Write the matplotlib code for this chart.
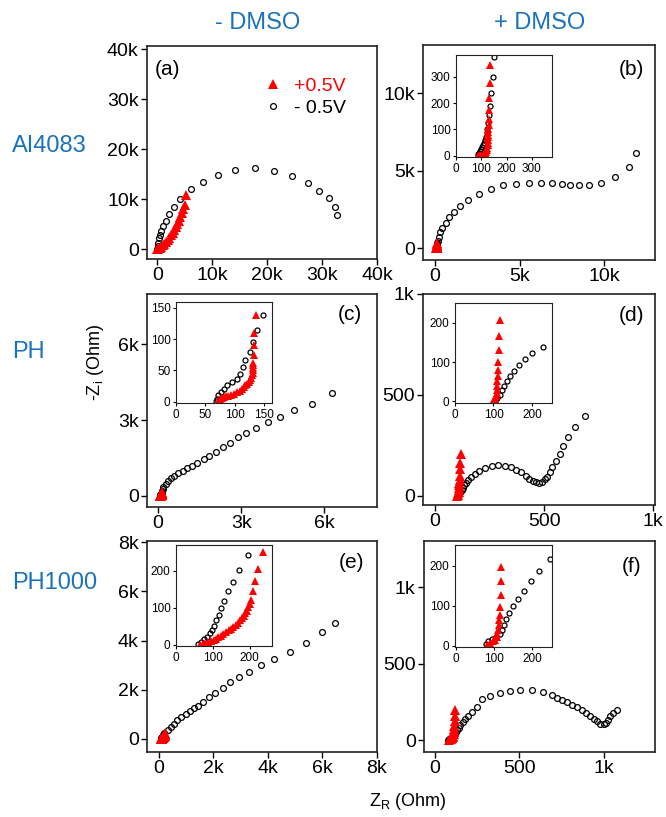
import matplotlib
matplotlib.use('Agg')
import matplotlib.pyplot as plt

# ---------- data (Ohm) ----------
# (a) AI4083, -DMSO
a_red_x = [0, 100, 250, 450, 700, 950, 1250, 1550, 1850, 2150, 2450, 2750, 3050, 3350,
           3650, 3900, 4150, 4400, 4700, 4950, 5150]
a_red_y = [0, 80, 200, 350, 550, 800, 1100, 1450, 1850, 2300, 2800, 3300, 3850, 4400,
           5000, 5700, 6400, 7200, 8000, 8800, 10900]
a_blk_x = [0, 50, 100, 300, 500, 600, 1000, 1500, 2100, 3000, 4200, 6200, 8300, 11100,
           14200, 17800, 21300, 24500, 27400, 29400, 31200, 32400, 32800]
a_blk_y = [0, 600, 1200, 2200, 2900, 3700, 4600, 5700, 7000, 8500, 10000, 12100, 13500, 14900,
           15900, 16200, 15700, 14700, 13300, 11700, 10200, 8500, 6900]

# (b) AI4083, +DMSO
b_red_x = [88, 92, 100, 110, 115, 120, 122, 124, 125, 126, 126, 127, 127, 128, 128, 129,
           130, 131, 132, 133, 135]
b_red_y = [0, 1, 3, 6, 10, 15, 22, 30, 40, 50, 60, 70, 80, 90, 100, 115,
           140, 175, 220, 275, 345]
b_blk_x = [87, 89, 92, 96, 100, 104, 108, 112, 115, 118, 121, 124, 127, 130, 133, 138, 145, 152,
           190, 240, 330, 450, 630, 830, 1130, 1480, 1970, 2600, 3320, 4040, 4790, 5560, 6270,
           6900, 7500, 7990, 8540, 9130, 9820, 10650, 11440, 11900]
b_blk_y = [0, 5, 10, 16, 24, 32, 40, 48, 58, 70, 85, 100, 125, 155, 190, 240, 300, 375,
           480, 750, 1070, 1330, 1650, 2000, 2370, 2760, 3140, 3530, 3850, 4060, 4170, 4200, 4200,
           4200, 4140, 4060, 4060, 4080, 4230, 4620, 5270, 6170]

# (c) PH, -DMSO
c_red_x = [72, 75, 78, 81, 85, 89, 94, 99, 104, 108, 112, 115, 118, 121, 124, 126, 128,
           129, 130, 130, 131, 131, 131, 132, 132, 133, 136]
c_red_y = [1, 4, 5.5, 7, 8.5, 9.5, 11, 13, 15, 17.5, 20, 23, 26, 28, 31, 34.5, 38,
           42, 46, 50, 54, 58, 62, 74, 90, 109, 138]
c_blk_x = [68, 69, 72, 76, 81, 86, 95, 103, 109, 114, 118, 125, 131, 138, 148, 158, 168,
           180, 270, 350, 450, 570, 720, 890, 1060, 1240, 1420, 1640, 1850, 2090, 2330, 2590,
           2880, 3180, 3520, 3950, 4410, 4920, 5550, 6280]
c_blk_y = [1.6, 5, 11, 16, 21, 27, 32, 37, 45, 55, 66, 80, 95, 115, 139, 190, 260,
           340, 470, 590, 700, 790, 890, 990, 1090, 1200, 1320, 1460, 1590, 1750, 1920, 2100,
           2340, 2510, 2710, 2930, 3130, 3390, 3660, 4080]

# (d) PH, +DMSO
d_red_x = [100, 104, 107, 109, 109, 110, 110, 111, 113, 113, 115, 115, 117]
d_red_y = [2, 6, 13, 21, 30, 40, 52, 65, 80, 101, 131, 165, 207]
d_blk_x = [104, 109, 116, 123, 128, 135, 143, 152, 165, 181, 200, 229, 259, 290, 320, 348,
           373, 396, 415, 431, 447, 462, 477, 491, 503, 515, 526, 538, 553, 572, 587, 610,
           643, 689]
d_blk_y = [2.5, 8, 17, 28, 40, 53, 65, 78, 93, 108, 124, 138, 147, 152, 149, 142,
           129, 116, 101, 86, 74, 68, 66, 71, 83, 96, 120, 145, 173, 208, 249, 290,
           340, 398]

# (e) PH1000, -DMSO
e_red_x = [65, 74, 80, 88, 95, 102, 108, 115, 122, 129, 136, 143, 150, 156, 162, 168, 174,
           179, 184, 188, 192, 197, 200, 204, 209, 215, 223, 236]
e_red_y = [0, 3, 5, 8, 10, 13.5, 17, 21, 25, 30, 34, 39, 44, 49, 54, 60, 66,
           72, 78, 85, 92, 101, 110, 121, 146, 172, 204, 249]
e_blk_x = [61, 67, 76, 85, 93, 98, 104, 109, 116, 123, 131, 141, 155, 172, 195,
           330, 430, 540, 670, 820, 980, 1120, 1270, 1430, 1610, 1830, 2060, 2340, 2610,
           2950, 3320, 3740, 4210, 4800, 5390, 5980, 6460]
e_blk_y = [3, 9, 15, 22, 31, 40, 52, 66, 81, 99, 119, 144, 170, 202, 242,
           350, 490, 620, 760, 880, 1000, 1120, 1240, 1360, 1500, 1690, 1860, 2090, 2300,
           2510, 2730, 2990, 3240, 3530, 3920, 4340, 4730]

# (f) PH1000, +DMSO
f_red_x = [80, 89, 96, 102, 106.5, 108, 111, 112.7, 113.5, 115, 115, 117, 117, 117]
f_red_y = [2.5, 6.7, 10.8, 15, 21.7, 30, 40, 52.5, 65, 77.5, 96.7, 127.5, 161, 198]
f_blk_x = [79, 85, 94, 105, 114, 120, 126, 131, 140, 150, 163, 179, 198, 218, 246,
           277, 326, 385, 445, 504, 573, 642, 692, 721, 751, 781, 810, 840, 870, 895, 919,
           939, 958, 978, 998, 1012, 1022, 1038, 1053, 1077]
f_blk_y = [5, 11, 17, 22, 30, 40, 53, 67, 82, 100, 118, 138, 161, 186, 217,
           270, 291, 309, 320, 326, 326, 313, 298, 280, 265, 248, 233, 215, 196, 178, 161,
           143, 124, 109, 109, 117, 135, 157, 178, 196]

legend_labels = ['+0.5V', '- 0.5V']
panel_labels = ['(a)', '(b)', '(c)', '(d)', '(e)', '(f)']

# ---------- style ----------
plt.rcParams['font.family'] = ['Liberation Sans', 'DejaVu Sans']
plt.rcParams['mathtext.default'] = 'regular'
BLUE = '#1a72bd'
RED = '#ff0000'
W, H = 666, 817


def box(x0, y0, x1, y1):
    # pixel box (top-left origin) -> figure fraction
    return [x0 / W, 1 - y1 / H, (x1 - x0) / W, (y1 - y0) / H]


def kfmt(v, pos=None):
    if v == 0:
        return '0'
    if abs(v) >= 1000:
        return f'{v / 1000:g}k'
    return f'{v:g}'


def draw(ax, rx, ry, bx, by, inset=False):
    ms_c, ms_t = (3.6, 5.6) if inset else (4.2, 6.6)
    b, = ax.plot(bx, by, 'o', mfc='none', mec='black', ms=ms_c, mew=0.9, ls='none')
    r, = ax.plot(rx, ry, '^', color=RED, ms=ms_t, mew=0, ls='none')
    return r, b


def style(ax, xlim, ylim, xt, yt, inset=False):
    ax.set_xlim(*xlim)
    ax.set_ylim(*ylim)
    ax.set_xticks(xt)
    ax.set_yticks(yt)
    if inset:
        ax.tick_params(direction='out', length=2.5, width=0.8, labelsize=8.5, pad=1.5)
        lw = 0.8
    else:
        ax.tick_params(direction='out', length=4.5, width=1.0, labelsize=14, pad=1.5)
        ax.xaxis.set_major_formatter(kfmt)
        ax.yaxis.set_major_formatter(kfmt)
        lw = 1.2
    for s in ax.spines.values():
        s.set_linewidth(lw)
        s.set_color('#222222')


fig = plt.figure(figsize=(W / 100, H / 100), dpi=100)

main_boxes = [box(147, 46, 377, 259), box(423, 45, 655, 260),
              box(147, 294, 377, 507), box(423, 294, 655, 505),
              box(147, 541, 377, 752), box(424, 541, 655, 752)]
inset_boxes = [None, box(456, 55, 552, 157),
               box(176, 302, 272, 403), box(455, 303, 552, 403),
               box(176, 545, 272, 646), box(455, 545, 552, 647)]

data = [(a_red_x, a_red_y, a_blk_x, a_blk_y),
        (b_red_x, b_red_y, b_blk_x, b_blk_y),
        (c_red_x, c_red_y, c_blk_x, c_blk_y),
        (d_red_x, d_red_y, d_blk_x, d_blk_y),
        (e_red_x, e_red_y, e_blk_x, e_blk_y),
        (f_red_x, f_red_y, f_blk_x, f_blk_y)]

main_lims = [((-1900, 40000), (-1900, 40600), [0, 10000, 20000, 30000, 40000], [0, 10000, 20000, 30000, 40000]),
             ((-700, 13000), (-750, 13100), [0, 5000, 10000], [0, 5000, 10000]),
             ((-400, 7900), (-440, 8000), [0, 3000, 6000], [0, 3000, 6000]),
             ((-55, 1008), (-45, 1000), [0, 500, 1000], [0, 500, 1000]),
             ((-440, 8000), (-530, 8050), [0, 2000, 4000, 6000, 8000], [0, 2000, 4000, 6000, 8000]),
             ((-65, 1302), (-75, 1300), [0, 500, 1000], [0, 500, 1000])]
inset_lims = [None,
              ((0, 380), (-5, 383), [0, 100, 200, 300], [0, 100, 200, 300]),
              ((0, 163), (-2, 159), [0, 50, 100, 150], [0, 50, 100, 150]),
              ((0, 252), (-4, 250), [0, 100, 200], [0, 100, 200]),
              ((0, 261), (-3, 269), [0, 100, 200], [0, 100, 200]),
              ((-3, 252), (-3, 252), [0, 100, 200], [0, 100, 200])]
label_pos = [(0.087, 0.89), (0.90, 0.885), (0.88, 0.905), (0.90, 0.90), (0.89, 0.90), (0.90, 0.88)]

for i in range(6):
    rx, ry, bx, by = data[i]
    ax = fig.add_axes(main_boxes[i])
    red_h, blk_h = draw(ax, rx, ry, bx, by)
    style(ax, *main_lims[i])
    ax.text(*label_pos[i], panel_labels[i], transform=ax.transAxes,
            ha='center', va='center', fontsize=15)
    if i == 0:
        ax.legend([red_h, blk_h], legend_labels, loc='upper left', bbox_to_anchor=(0.47, 0.89),
                  frameon=False, fontsize=14, handlelength=1.0, handletextpad=0.6,
                  labelspacing=0.25, borderaxespad=0, labelcolor=[RED, 'black'])
    if inset_boxes[i] is not None:
        ins = fig.add_axes(inset_boxes[i])
        draw(ins, rx, ry, bx, by, inset=True)
        style(ins, *inset_lims[i], inset=True)

# column / row labels
fig.text(258 / W, 1 - 23 / H, '- DMSO', ha='center', va='center', fontsize=17, color=BLUE)
fig.text(540 / W, 1 - 23 / H, '+ DMSO', ha='center', va='center', fontsize=17, color=BLUE)
fig.text(12 / W, 1 - 146 / H, 'AI4083', ha='left', va='center', fontsize=17, color=BLUE)
fig.text(12 / W, 1 - 352 / H, 'PH', ha='left', va='center', fontsize=17, color=BLUE)
fig.text(12 / W, 1 - 583 / H, 'PH1000', ha='left', va='center', fontsize=17, color=BLUE)

fig.text(96 / W, 1 - 362 / H, r'-Z$_i$ (Ohm)', rotation=90, ha='center', va='center', fontsize=13)
fig.text(408 / W, 1 - 802 / H, r'Z$_R$ (Ohm)', ha='center', va='center', fontsize=13)

fig.savefig('out.png', dpi=100, facecolor='white')
